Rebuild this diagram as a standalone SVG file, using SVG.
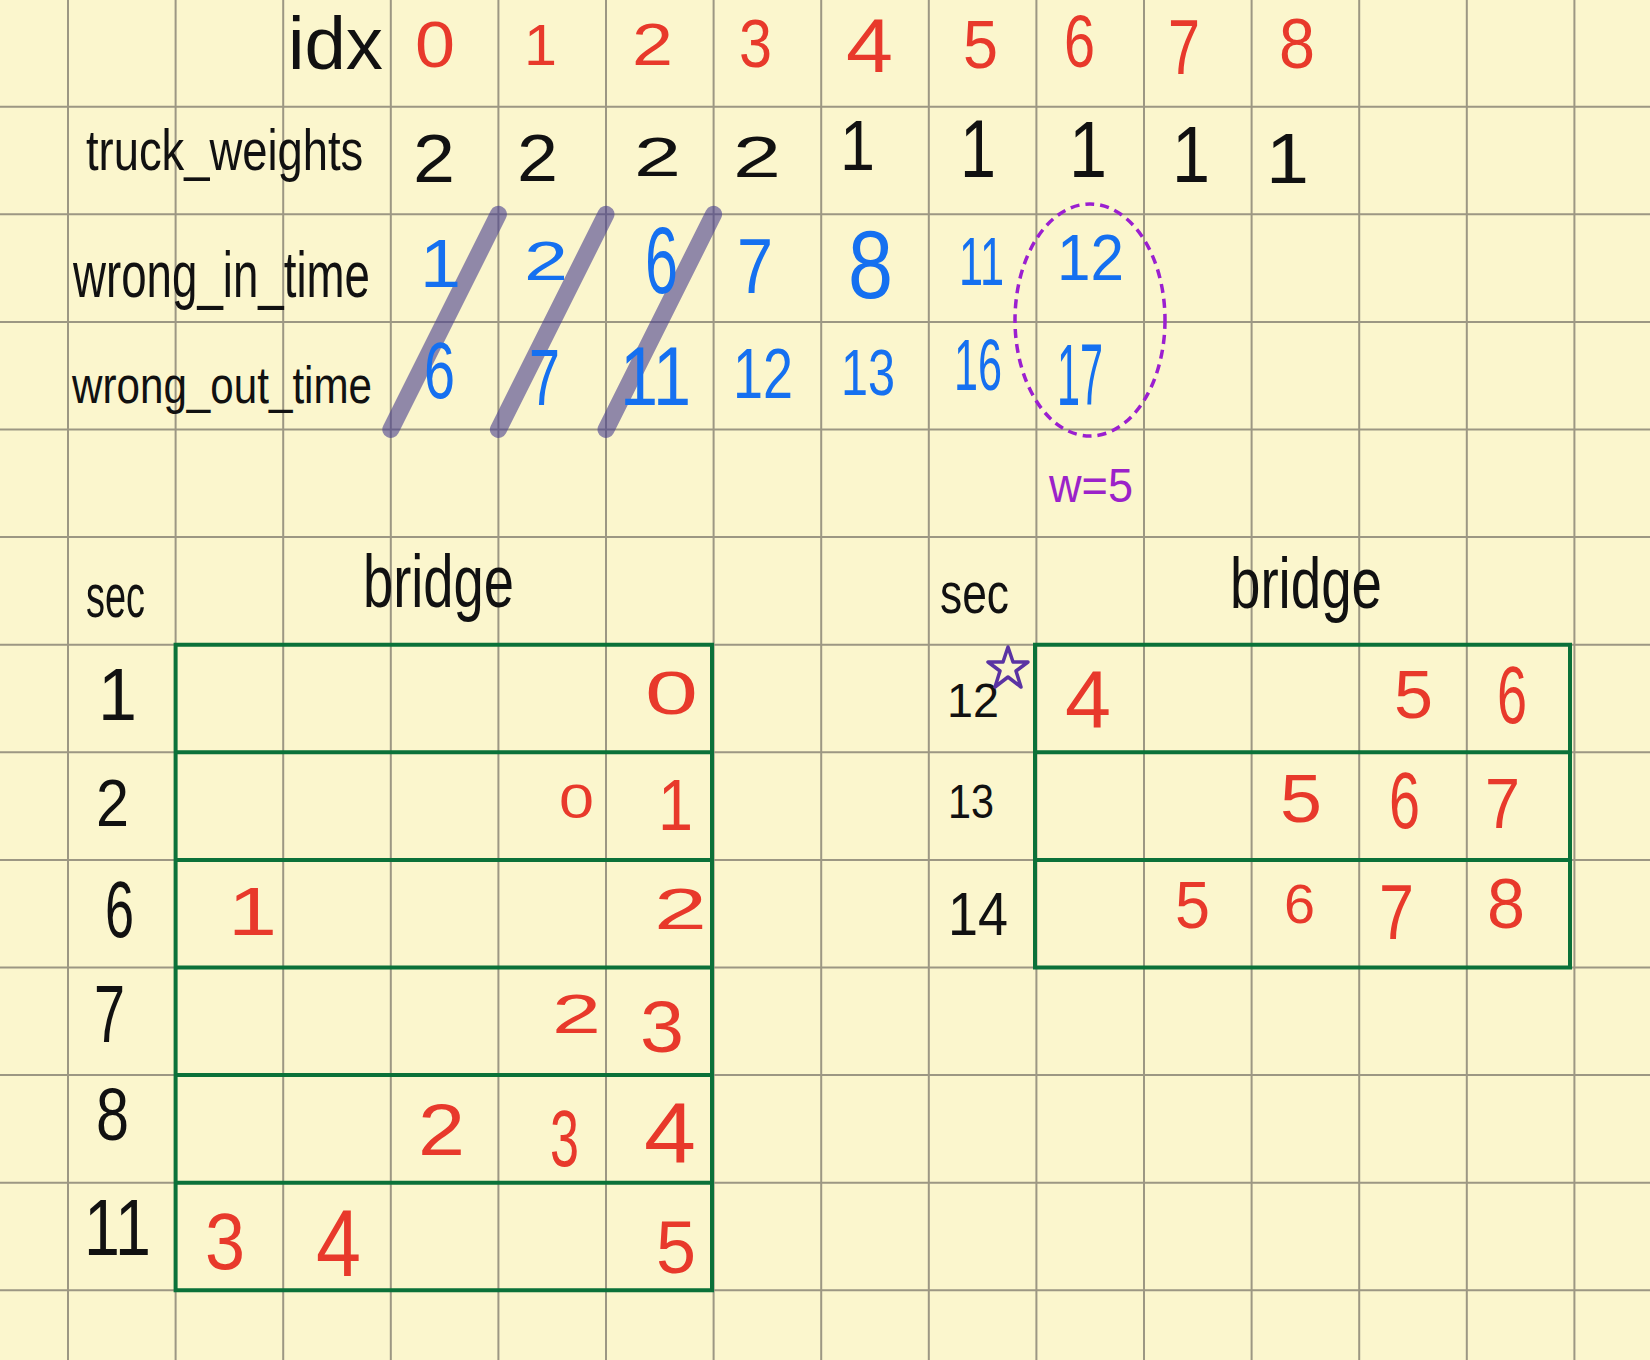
<svg xmlns="http://www.w3.org/2000/svg" width="1650" height="1360" viewBox="0 0 1650 1360">
<style>
text{font-family:"Liberation Sans",Arial,sans-serif}
.k{fill:#111}
.r{fill:#e8392b}
.b{fill:#1570f0}
.p{fill:#9b22c9}
.grid{stroke:#9c9783;stroke-width:2;fill:none}
.box{stroke:#0b7139;stroke-width:4;fill:none}
.strike{stroke:#4a4090;stroke-opacity:0.6;stroke-width:17;stroke-linecap:round}
</style>
<rect width="1650" height="1360" fill="#fbf6cd"/>
<g id="grid" class="grid">
<path d="M68 0V1360M175.6 0V1360M283.2 0V1360M390.8 0V1360M498.4 0V1360M606 0V1360M713.6 0V1360M821.2 0V1360M928.8 0V1360M1036.4 0V1360M1144 0V1360M1251.6 0V1360M1359.2 0V1360M1466.8 0V1360M1574.4 0V1360"/>
<path d="M0 106.7H1650M0 214.3H1650M0 321.9H1650M0 429.5H1650M0 537.1H1650M0 644.7H1650M0 752.3H1650M0 859.9H1650M0 967.5H1650M0 1075.1H1650M0 1182.7H1650M0 1290.3H1650"/>
</g>
<g id="strikes">
<line class="strike" x1="498.4" y1="214.3" x2="390.8" y2="429.5"/>
<line class="strike" x1="606" y1="214.3" x2="498.4" y2="429.5"/>
<line class="strike" x1="713.6" y1="214.3" x2="606" y2="429.5"/>
</g>
<g id="row-idx">
<text class="k" x="288" y="69" font-size="75" textLength="95" lengthAdjust="spacingAndGlyphs">idx</text>
<text class="r" x="415" y="67" font-size="65" textLength="40" lengthAdjust="spacingAndGlyphs">0</text>
<text class="r" x="524" y="65" font-size="58" textLength="33" lengthAdjust="spacingAndGlyphs">1</text>
<text class="r" x="632" y="65" font-size="60" textLength="41" lengthAdjust="spacingAndGlyphs">2</text>
<text class="r" x="739" y="67" font-size="69" textLength="33" lengthAdjust="spacingAndGlyphs">3</text>
<text class="r" x="846" y="72" font-size="76" textLength="47" lengthAdjust="spacingAndGlyphs">4</text>
<text class="r" x="963" y="68" font-size="69" textLength="35" lengthAdjust="spacingAndGlyphs">5</text>
<text class="r" x="1064" y="67" font-size="74" textLength="31" lengthAdjust="spacingAndGlyphs">6</text>
<text class="r" x="1168" y="74" font-size="78" textLength="32" lengthAdjust="spacingAndGlyphs">7</text>
<text class="r" x="1279" y="68" font-size="71" textLength="36" lengthAdjust="spacingAndGlyphs">8</text>
</g>
<g id="row-weights">
<text class="k" transform="translate(86 170) scale(0.781 1)" x="0" y="0" font-size="58" textLength="355" lengthAdjust="spacingAndGlyphs">truck_weights</text>
<text class="k" x="413" y="182" font-size="68" textLength="42" lengthAdjust="spacingAndGlyphs">2</text>
<text class="k" x="517" y="181" font-size="66" textLength="41" lengthAdjust="spacingAndGlyphs">2</text>
<text class="k" x="634" y="176" font-size="56" textLength="47" lengthAdjust="spacingAndGlyphs">2</text>
<text class="k" x="733" y="177" font-size="57" textLength="48" lengthAdjust="spacingAndGlyphs">2</text>
<text class="k" x="840" y="170" font-size="70" textLength="35" lengthAdjust="spacingAndGlyphs">1</text>
<text class="k" x="960" y="177" font-size="82" textLength="36" lengthAdjust="spacingAndGlyphs">1</text>
<text class="k" x="1069" y="177" font-size="79" textLength="38" lengthAdjust="spacingAndGlyphs">1</text>
<text class="k" x="1172" y="182" font-size="79" textLength="38" lengthAdjust="spacingAndGlyphs">1</text>
<text class="k" x="1266" y="183" font-size="71" textLength="43" lengthAdjust="spacingAndGlyphs">1</text>
</g>
<g id="row-in">
<text class="k" transform="translate(73 297) scale(0.714 1)" x="0" y="0" font-size="64" textLength="416" lengthAdjust="spacingAndGlyphs">wrong_in_time</text>
<text class="b" x="420" y="287" font-size="68" textLength="41" lengthAdjust="spacingAndGlyphs">1</text>
<text class="b" x="524" y="280" font-size="56" textLength="44" lengthAdjust="spacingAndGlyphs">2</text>
<text class="b" x="645" y="293" font-size="94" textLength="33" lengthAdjust="spacingAndGlyphs">6</text>
<text class="b" x="737" y="293" font-size="78" textLength="36" lengthAdjust="spacingAndGlyphs">7</text>
<text class="b" x="848" y="298" font-size="96" textLength="45" lengthAdjust="spacingAndGlyphs">8</text>
<text class="b" x="959" y="285" font-size="69" textLength="45" lengthAdjust="spacingAndGlyphs">11</text>
<text class="b" x="1057" y="280" font-size="65" textLength="67" lengthAdjust="spacingAndGlyphs">12</text>
</g>
<g id="row-out">
<text class="k" transform="translate(72 403) scale(0.811 1)" x="0" y="0" font-size="52" textLength="370" lengthAdjust="spacingAndGlyphs">wrong_out_time</text>
<text class="b" x="424" y="398" font-size="80" textLength="31" lengthAdjust="spacingAndGlyphs">6</text>
<text class="b" x="529" y="405" font-size="80" textLength="31" lengthAdjust="spacingAndGlyphs">7</text>
<text class="b" x="620" y="405" font-size="83" textLength="71" lengthAdjust="spacingAndGlyphs">11</text>
<text class="b" x="733" y="398" font-size="71" textLength="60" lengthAdjust="spacingAndGlyphs">12</text>
<text class="b" x="841" y="395" font-size="65" textLength="54" lengthAdjust="spacingAndGlyphs">13</text>
<text class="b" x="954" y="390" font-size="72" textLength="48" lengthAdjust="spacingAndGlyphs">16</text>
<text class="b" x="1057" y="405" font-size="87" textLength="46" lengthAdjust="spacingAndGlyphs">17</text>
</g>
<g id="window">
<ellipse cx="1090" cy="320" rx="75" ry="116" fill="none" stroke="#9b1fd0" stroke-width="3.5" stroke-dasharray="9 6"/>
<text class="p" x="1049" y="502" font-size="48" textLength="84" lengthAdjust="spacingAndGlyphs">w=5</text>
</g>
<g id="table-left">
<text class="k" x="86" y="617" font-size="62" textLength="59" lengthAdjust="spacingAndGlyphs">sec</text>
<text class="k" x="363" y="607" font-size="74" textLength="151" lengthAdjust="spacingAndGlyphs">bridge</text>
<path class="box" d="M175.6 644.7H712V1290.3H175.6ZM175.6 752.3H712M175.6 859.9H712M175.6 967.5H712M175.6 1075.1H712M175.6 1182.7H712"/>
<text class="k" x="98" y="720" font-size="75" textLength="39" lengthAdjust="spacingAndGlyphs">1</text>
<text class="k" x="96" y="826" font-size="67" textLength="33" lengthAdjust="spacingAndGlyphs">2</text>
<text class="k" x="105" y="937" font-size="79" textLength="29" lengthAdjust="spacingAndGlyphs">6</text>
<text class="k" x="94" y="1042" font-size="82" textLength="31" lengthAdjust="spacingAndGlyphs">7</text>
<text class="k" x="96" y="1140" font-size="74" textLength="33" lengthAdjust="spacingAndGlyphs">8</text>
<text class="k" x="84" y="1255" font-size="79" textLength="67" lengthAdjust="spacingAndGlyphs">11</text>
<text class="r" x="645" y="714" font-size="61" textLength="53" lengthAdjust="spacingAndGlyphs">0</text>
<text class="r" x="559" y="818" font-size="49" textLength="35" lengthAdjust="spacingAndGlyphs">0</text>
<text class="r" x="658" y="830" font-size="72" textLength="35" lengthAdjust="spacingAndGlyphs">1</text>
<text class="r" x="228" y="935" font-size="69" textLength="49" lengthAdjust="spacingAndGlyphs">1</text>
<text class="r" x="654" y="929" font-size="57" textLength="53" lengthAdjust="spacingAndGlyphs">2</text>
<text class="r" x="552" y="1033" font-size="56" textLength="49" lengthAdjust="spacingAndGlyphs">2</text>
<text class="r" x="640" y="1052" font-size="72" textLength="44" lengthAdjust="spacingAndGlyphs">3</text>
<text class="r" x="418" y="1155" font-size="72" textLength="47" lengthAdjust="spacingAndGlyphs">2</text>
<text class="r" x="550" y="1166" font-size="79" textLength="29" lengthAdjust="spacingAndGlyphs">3</text>
<text class="r" x="644" y="1162" font-size="86" textLength="52" lengthAdjust="spacingAndGlyphs">4</text>
<text class="r" x="205" y="1269" font-size="79" textLength="40" lengthAdjust="spacingAndGlyphs">3</text>
<text class="r" x="316" y="1276" font-size="95" textLength="45" lengthAdjust="spacingAndGlyphs">4</text>
<text class="r" x="656" y="1273" font-size="74" textLength="40" lengthAdjust="spacingAndGlyphs">5</text>
</g>
<g id="table-right">
<text class="k" x="940" y="613" font-size="58" textLength="69" lengthAdjust="spacingAndGlyphs">sec</text>
<text class="k" x="1230" y="608" font-size="73" textLength="152" lengthAdjust="spacingAndGlyphs">bridge</text>
<path class="box" d="M1035 644.7H1570V967.5H1035ZM1035 752.3H1570M1035 859.9H1570"/>
<text class="k" x="947" y="717" font-size="49" textLength="52" lengthAdjust="spacingAndGlyphs">12</text>
<polygon points="1008,647 1013,662 1028,662 1016,671 1021,687 1008,677 995,687 1000,671 988,662 1003,662" fill="none" stroke="#5a33a3" stroke-width="3.5" stroke-linejoin="round"/>
<text class="k" x="948" y="818" font-size="49" textLength="46" lengthAdjust="spacingAndGlyphs">13</text>
<text class="k" x="948" y="935" font-size="62" textLength="60" lengthAdjust="spacingAndGlyphs">14</text>
<text class="r" x="1065" y="728" font-size="82" textLength="46" lengthAdjust="spacingAndGlyphs">4</text>
<text class="r" x="1394" y="718" font-size="69" textLength="39" lengthAdjust="spacingAndGlyphs">5</text>
<text class="r" x="1497" y="723" font-size="82" textLength="30" lengthAdjust="spacingAndGlyphs">6</text>
<text class="r" x="1280" y="822" font-size="68" textLength="42" lengthAdjust="spacingAndGlyphs">5</text>
<text class="r" x="1389" y="828" font-size="80" textLength="31" lengthAdjust="spacingAndGlyphs">6</text>
<text class="r" x="1485" y="828" font-size="71" textLength="35" lengthAdjust="spacingAndGlyphs">7</text>
<text class="r" x="1175" y="928" font-size="67" textLength="35" lengthAdjust="spacingAndGlyphs">5</text>
<text class="r" x="1284" y="923" font-size="56" textLength="31" lengthAdjust="spacingAndGlyphs">6</text>
<text class="r" x="1379" y="939" font-size="78" textLength="35" lengthAdjust="spacingAndGlyphs">7</text>
<text class="r" x="1487" y="928" font-size="71" textLength="38" lengthAdjust="spacingAndGlyphs">8</text>
</g>
</svg>
